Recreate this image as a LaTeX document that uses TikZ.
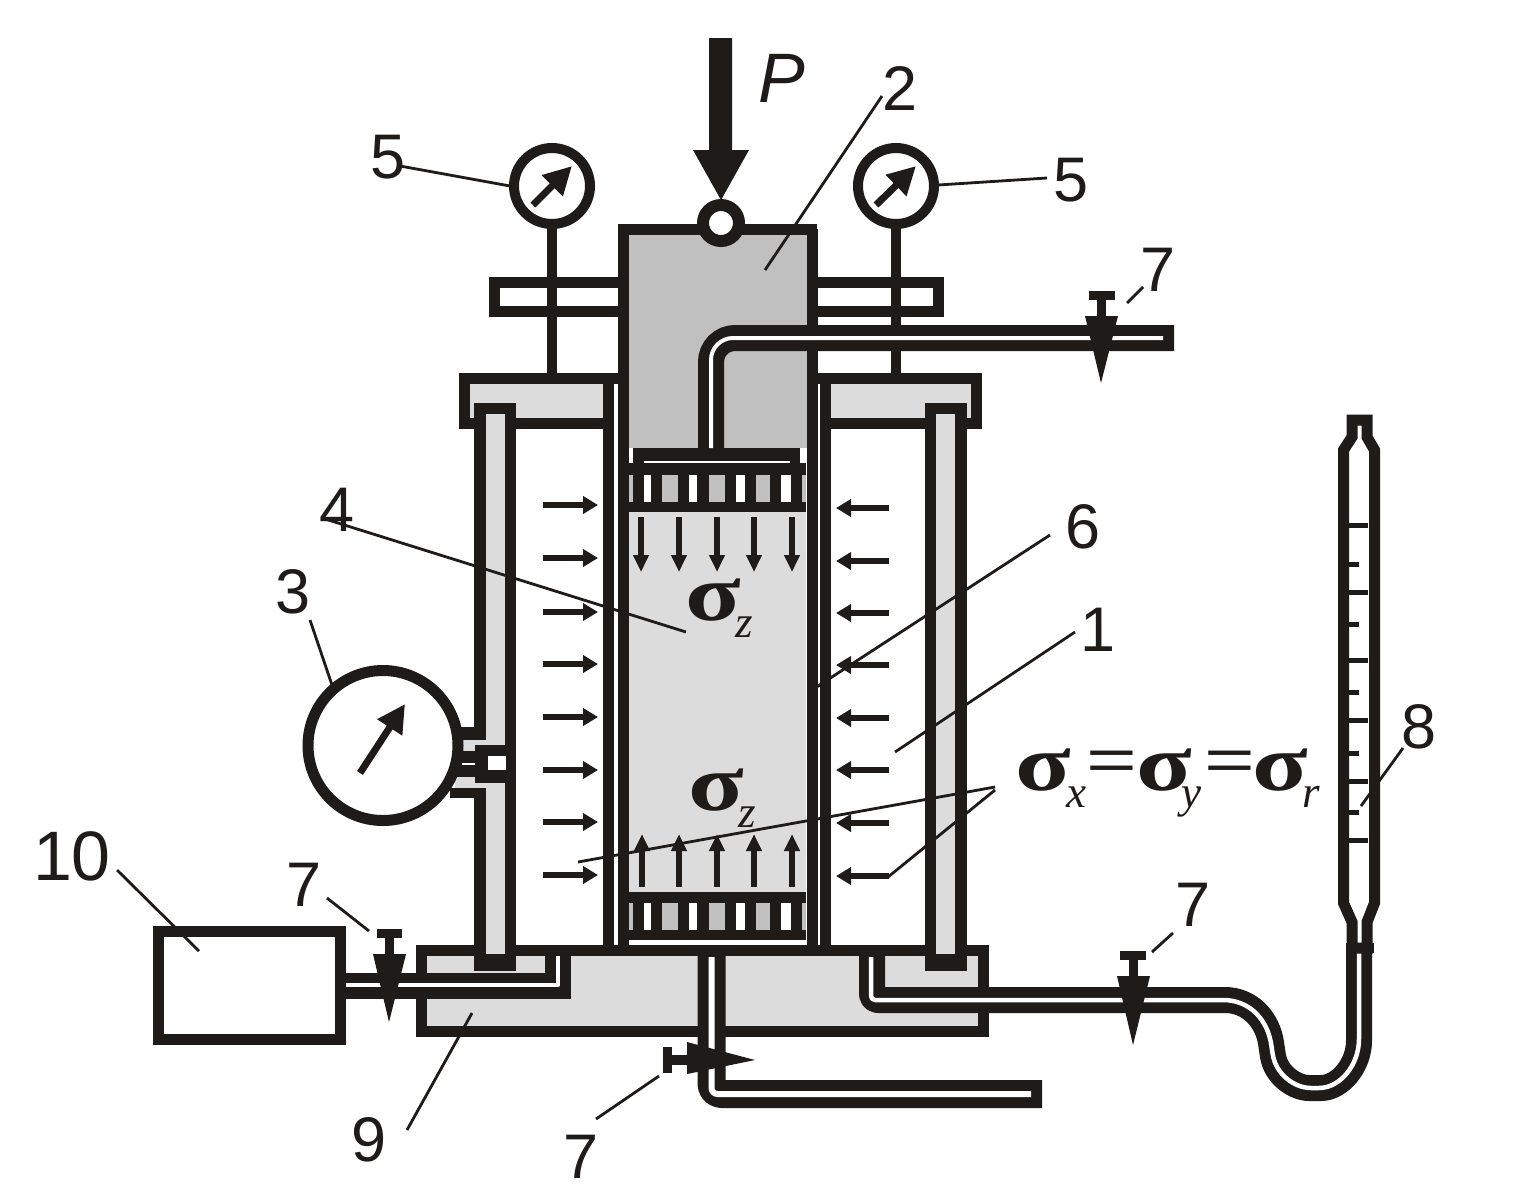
\documentclass[tikz,border=0pt]{standalone}
\usepackage{fontspec}
\usepackage{graphicx}
\setmainfont{Liberation Sans}
\newfontfamily\sgm{Liberation Serif}
\usetikzlibrary{arrows.meta}
\definecolor{ink}{HTML}{1F1B18}
\definecolor{lightg}{HTML}{DCDCDC}
\definecolor{midg}{HTML}{C0C0C0}
\newcommand{\numfont}{\fontsize{63}{63}\selectfont}
\newcommand{\sigf}{\sgm\bfseries\fontsize{80}{80}\selectfont}
\newcommand{\subf}{\sgm\itshape\fontsize{45}{45}\selectfont}
\newcommand{\eqf}{\fontsize{60}{60}\selectfont}
\newcommand{\sigbox}[1]{\makebox[#1][l]{\sigf\scalebox{1.28}[1]{σ}}}
\newcommand{\subbox}[2]{\makebox[#1][l]{\raisebox{-17pt}{\subf #2}}}
\newcommand{\eqbox}[1]{\makebox[#1][l]{\raisebox{10pt}{\eqf\scalebox{1.45}[1]{=}}}}
\tikzset{
  x=1pt,y=-1pt,
  wall/.style={draw=ink,line width=11pt,line join=miter},
  stem/.style={draw=ink,line width=10pt},
  tubeo/.style={draw=ink,line width=26pt,line join=round},
  tubei/.style={draw=white,line width=4.5pt,line join=round},
  leader/.style={draw=ink,line width=2.8pt},
  num/.style={font=\numfont,text=ink,inner sep=0pt},
  harrow/.style={draw=ink,line width=6pt,-{Triangle[length=15pt,width=17pt]}},
  varrow/.style={draw=ink,line width=5.5pt,-{Triangle[length=17pt,width=15pt]}},
  needle/.style={draw=ink,line width=7pt,line cap=butt,-{Triangle[length=28pt,width=28pt]}},
  sigtext/.style={inner sep=0pt,text=ink,anchor=base west}
}
\begin{document}
\begin{tikzpicture}
\useasboundingbox (0,0) rectangle (1520,1195);
\fill[white] (0,0) rectangle (1520,1195);

% sample and piston fills
\fill[lightg] (629,512) rectangle (806,892);
\fill[midg] (623,229) rectangle (812,448);

% upper side flanges
\draw[wall,fill=white] (494.5,282.5) rectangle (623,311);
\draw[wall,fill=white] (812,282.5) rectangle (938.5,311);

% gauge stems
\draw[stem] (552,228) -- (552,376);
\draw[stem] (896,228) -- (896,376);

% top flanges with gray fill
\draw[wall,fill=lightg] (464,378) rectangle (608.5,423.5);
\draw[wall,fill=lightg] (825.5,378) rectangle (976,423.5);
\draw[wall] (608,378) -- (620,378);
\draw[wall] (815,378) -- (826,378);

% base
\draw[wall,fill=lightg] (421.5,950.5) rectangle (983,1031);

% cylinder and piston walls
\draw[wall] (608.5,378) -- (608.5,950);
\draw[wall] (825.5,378) -- (825.5,950);
\draw[wall] (623.5,229) -- (623.5,950);
\draw[wall] (812,229) -- (812,950);
\draw[wall] (618,229) -- (817,229);

% tie rods
\draw[draw=ink,line width=11.5pt,fill=lightg] (480,408.5) rectangle (510.5,965);
\draw[draw=ink,line width=11.5pt,fill=lightg] (930.5,408.5) rectangle (961,965);
\fill[ink] (474,954) rectangle (516,971);
\fill[ink] (925,954) rectangle (967,971);

% gauge 3 fitting
\fill[lightg] (455,740) rectangle (486,788);
\fill[ink] (450,727) rectangle (476,740);
\fill[ink] (450,788) rectangle (476,798);
\fill[ink] (450,751) rectangle (476,777);
\fill[white] (462,763) rectangle (476,765);
\fill[ink] (475,745) rectangle (516,783);
\fill[white] (488,756) rectangle (506,770);

% piston head, top filter
\fill[white] (629,448) rectangle (806,463);
\fill[ink] (633,448) rectangle (800,463);
\fill[white] (644,461) rectangle (790,463);
\fill[ink] (629,463) rectangle (806,475);
\fill[midg] (629,475) rectangle (806,502);
\foreach \a/\b in {644/651,689/697,736/745,781/791}{\fill[white] (\a,475) rectangle (\b,502);}
\foreach \a/\b in {633/644,651/662,678/689,697/709,725/736,745/756,770/781,791/802}{\fill[ink] (\a,475) rectangle (\b,502);}
\fill[ink] (629,502) rectangle (806,512);

% bottom filter
\fill[ink] (629,892) rectangle (806,903);
\fill[midg] (629,903) rectangle (806,930);
\foreach \a/\b in {644/651,689/697,736/745,781/791}{\fill[white] (\a,903) rectangle (\b,930);}
\foreach \a/\b in {633/644,651/662,678/689,697/709,725/736,745/756,770/781,791/802}{\fill[ink] (\a,903) rectangle (\b,930);}
\fill[ink] (629,930) rectangle (806,940);
\fill[white] (629,940) rectangle (806,945);

% top pipe
\draw[tubeo,line join=miter,rounded corners=24pt] (711,448) -- (711,338) -- (1174,338);
\draw[tubei,line width=4pt,rounded corners=22pt] (711,448) -- (711,338) -- (1163,338);

% left pipe
\draw[tubeo,line join=miter] (346,986) -- (558,986) -- (558,952);
\draw[tubei] (346,985) -- (558,985) -- (558,956);

% right pipe with U bend
\draw[tubeo,rounded corners=6pt] (872,952) -- (872,1000) -- (1219,1000)
  .. controls (1250,1000) and (1268,1020) .. (1272,1050)
  .. controls (1276,1075) and (1295,1088) .. (1315,1088)
  .. controls (1340,1088) and (1359,1065) .. (1359,1035) -- (1359,948);
\draw[tubei,rounded corners=4pt] (871,957) -- (871,1000) -- (1219,1000)
  .. controls (1250,1000) and (1268,1020) .. (1272,1050)
  .. controls (1276,1075) and (1295,1088) .. (1315,1088)
  .. controls (1340,1088) and (1359,1065) .. (1359,1035) -- (1359,953);

% bottom pipe
\draw[tubeo,line width=28pt,rounded corners=10pt] (711.5,952) -- (711.5,1094) -- (1042,1094);
\draw[tubei,line width=6pt,rounded corners=6pt] (711.5,957) -- (711.5,1094) -- (1031,1094);

% burette
\draw[draw=ink,line width=11pt,fill=white,line join=miter]
  (1352,420) -- (1352,437) -- (1343.5,450) -- (1343.5,903) -- (1352,922) -- (1352,948)
  -- (1367,948) -- (1367,922) -- (1374.5,903) -- (1374.5,450) -- (1367,437) -- (1367,420) -- cycle;
\foreach \y in {525,592,660,720,781,840.5}{\draw[draw=ink,line width=5pt] (1347,\y) -- (1368,\y);}
\foreach \y in {564,624,692,753,812.5}{\draw[draw=ink,line width=5pt] (1347,\y) -- (1359,\y);}
\fill[ink] (1346,943) rectangle (1374,953);

% box 10
\draw[wall,fill=white] (158.5,931.5) rectangle (340.5,1039.5);

% valves
\fill[ink] (1089,291) rectangle (1115,300);
\fill[ink] (1097,300) rectangle (1106,316);
\fill[ink] (1085,316) -- (1118,316) -- (1101,383) -- cycle;

\fill[ink] (377,929) rectangle (402,938);
\fill[ink] (385,938) rectangle (394,954);
\fill[ink] (373,954) -- (406,954) -- (389,1022) -- cycle;

\fill[ink] (1120,951) rectangle (1146,960);
\fill[ink] (1129,960) rectangle (1138,976);
\fill[ink] (1117,976) -- (1150,976) -- (1133,1045) -- cycle;

\fill[ink] (663,1047) rectangle (672,1073);
\fill[ink] (672,1055) rectangle (687,1065);
\fill[ink] (687,1042) -- (687,1074) -- (755,1060) -- cycle;

% gauges
\draw[draw=ink,line width=10pt,fill=white] (552,186) circle (38);
\draw[draw=ink,line width=10pt,fill=white] (896,186) circle (38);
\draw[needle] (533,205) -- (572,166);
\draw[needle] (876,205) -- (916,166);
\draw[draw=ink,line width=11pt,fill=white] (383,745.5) circle (75);
\draw[needle,line width=7pt] (360,773) -- (405,704);

% force ball and load arrow
\draw[draw=ink,line width=12pt,fill=white] (721,223) circle (18);
\fill[ink] (709,38) -- (732,38) -- (732,150) -- (749,150) -- (721,200) -- (693,150) -- (709,150) -- cycle;

% lateral arrows
\foreach \y in {505,558,612,664,717,770,822,875}{\draw[harrow] (543,\y) -- (598,\y);}
\foreach \y in {508,561,613,665,718,770,823,876}{\draw[harrow] (889,\y) -- (836,\y);}
\foreach \x in {641,679,717,754,792}{\draw[varrow] (\x,517) -- (\x,572);}
\foreach \x in {642,679,717,754,792}{\draw[varrow] (\x,887) -- (\x,834);}

% leaders
\draw[leader] (400,166) -- (510,186);
\draw[leader] (938,185) -- (1047,178);
\draw[leader] (882,96) -- (765,270);
\draw[leader] (1127,303) -- (1143,287);
\draw[leader] (322,518) -- (686,632);
\draw[leader] (1050,535) -- (815,688);
\draw[leader] (1075,632) -- (895,752);
\draw[leader] (310,620) -- (332,685);
\draw[leader] (117,870) -- (199,951);
\draw[leader] (327,898) -- (369,931);
\draw[leader] (1152,952) -- (1173,933);
\draw[leader] (596,1119) -- (659,1076);
\draw[leader] (407,1130) -- (472,1013);
\draw[leader] (1361,806) -- (1403,748);
\draw[leader] (995,787) -- (578,862);
\draw[leader] (995,790) -- (888,877);

% labels
\node[num] (n5a) at (388,157) {5};
\node[num] (n5b) at (1071,180) {5};
\node[num] (n2) at (900,88) {2};
\node[num,font=\itshape\fontsize{70}{70}\selectfont] (nP) at (782,78) {P};
\node[num] (n7a) at (1158,270) {7};
\node[num] (n4) at (337,510) {4};
\node[num] (n6) at (1083,527) {6};
\node[num] (n1) at (1098,630) {1};
\node[num] (n3) at (293,592) {3};
\node[num] (n8) at (1419,727) {8};
\node[num,font=\fontsize{70}{70}\selectfont] (n10) at (72,856) {10};
\node[num] (n7b) at (304,885) {7};
\node[num] (n7c) at (1193,905) {7};
\node[num] (n9) at (369,1140) {9};
\node[num] (n7d) at (581,1157) {7};
\node[sigtext] (sz1) at (685,620) {\sigbox{50pt}\subbox{20pt}{z}};
\node[sigtext] (sz2) at (688,810) {\sigbox{50pt}\subbox{20pt}{z}};
\node[sigtext] (sxyz) at (1015,790) {\sigbox{51pt}\subbox{20pt}{x}\eqbox{50pt}\sigbox{45pt}\subbox{23pt}{y}\eqbox{48pt}\sigbox{50pt}\subbox{20pt}{r}};
\end{tikzpicture}
\end{document}
